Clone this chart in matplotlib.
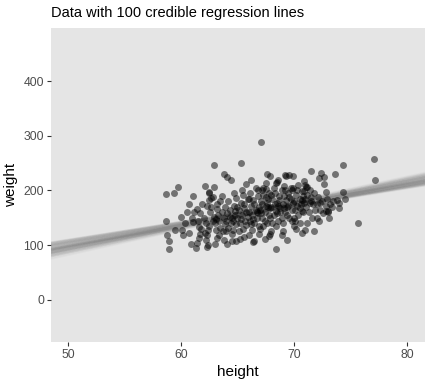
"""Scatter of weight vs height with 100 credible regression lines (ggplot look)."""

import matplotlib

matplotlib.use("Agg")
import matplotlib.pyplot as plt

height = [
    67.1, 62.9, 65.3, 63.8, 64.1, 64.4, 58.7, 59.4, 59.7, 61.1, 62.1, 62.9, 60.7, 60.0,
    58.7, 58.8, 58.9, 58.9, 59.5, 60.1, 60.2, 60.9, 61.4, 61.3, 62.3, 60.7, 61.6, 61.1,
    61.4, 61.7, 62.3, 62.5, 62.7, 62.5, 63.2, 63.6, 64.7, 64.9, 65.8, 66.2, 66.8, 67.5,
    67.6, 67.9, 68.4, 68.6, 69.3, 68.4, 69.4, 67.8, 66.5, 65.6, 64.9, 64.1, 63.2, 62.2,
    77.1, 74.3, 77.2, 75.7, 73.6, 74.3, 71.5, 72.4, 72.7, 72.2, 70.9, 71.2, 72.7, 72.8,
    73.4, 73.0, 72.3, 71.8, 70.7, 68.9, 70.2, 67.9, 66.4, 69.6, 69.2, 69.9, 68.5, 67.5,
    69.1, 70.9, 69.8, 71.4, 72.8, 62.5, 62.8, 67.3, 69.7, 70.7, 71.1,
    62.0, 62.2, 62.4, 62.6, 62.8, 62.1, 62.5, 62.9, 62.3, 62.7,
    63.0, 63.1, 63.3, 63.4, 63.5, 63.6, 63.8, 63.9, 63.2, 63.7, 63.4, 63.9, 63.5, 63.1,
    64.0, 64.1, 64.2, 64.3, 64.4, 64.5, 64.6, 64.7, 64.8, 64.9, 64.2, 64.5, 64.8, 64.0,
    64.6, 64.3,
    65.0, 65.1, 65.2, 65.3, 65.4, 65.5, 65.6, 65.7, 65.8, 65.9, 65.1, 65.5, 65.3, 65.8,
    65.6, 65.0, 65.9, 65.4,
    66.0, 66.1, 66.2, 66.3, 66.4, 66.5, 66.6, 66.7, 66.8, 66.9, 66.1, 66.3, 66.5, 66.7,
    66.9, 66.0, 66.4, 66.8, 66.2, 66.6,
    67.0, 67.1, 67.2, 67.3, 67.4, 67.5, 67.6, 67.7, 67.8, 67.9, 67.0, 67.2, 67.4, 67.6,
    67.8, 67.1, 67.5, 67.3, 67.7, 67.9, 67.2,
    68.0, 68.1, 68.2, 68.3, 68.4, 68.5, 68.6, 68.7, 68.8, 68.9, 68.1, 68.3, 68.5, 68.7,
    68.9, 68.2, 68.4, 68.6, 68.0, 68.8,
    69.0, 69.1, 69.2, 69.3, 69.4, 69.5, 69.6, 69.7, 69.8, 69.9, 69.0, 69.2, 69.4, 69.6,
    69.8, 69.1, 69.5, 69.9,
    70.0, 70.1, 70.2, 70.3, 70.4, 70.5, 70.6, 70.7, 70.8, 70.9, 70.1, 70.3, 70.5, 70.7,
    70.0, 70.4, 70.8,
    71.0, 71.1, 71.2, 71.3, 71.4, 71.5, 71.6, 71.7, 71.8, 71.9, 71.2, 71.5, 71.0,
    72.0, 72.1, 72.3, 72.5, 72.6, 72.8, 72.2, 72.9,
    73.2, 73.5, 73.8, 74.0, 73.1,
    61.0, 61.5, 61.8, 61.2, 61.9, 61.7, 60.5, 60.4, 61.6, 62.4, 63.0, 63.8, 64.5, 65.2,
    66.0, 66.9, 67.4, 68.0, 69.0, 70.0, 70.5, 71.0, 72.0, 73.0, 74.5, 74.0,
]
weight = [
    289, 247, 250, 231, 225, 219, 193, 195, 206, 190, 208, 206, 175, 151,
    144, 119, 108, 93, 128, 128, 119, 103, 104, 94, 96, 123, 134, 142,
    167, 158, 171, 182, 187, 197, 167, 190, 195, 186, 211, 219, 201, 214,
    230, 226, 213, 219, 227, 93, 110, 117, 108, 115, 107, 103, 113, 110,
    258, 247, 220, 141, 231, 198, 235, 232, 225, 222, 217, 206, 211, 197,
    169, 163, 177, 125, 122, 118, 130, 120, 105, 228, 228, 226, 216, 203,
    209, 199, 200, 201, 162, 196, 188, 204, 205, 199, 207,
    150, 140, 128, 160, 145, 122, 135, 152, 118, 170,
    140, 128, 155, 145, 132, 160, 150, 138, 175, 125, 118, 170, 180, 148,
    145, 158, 132, 165, 140, 150, 128, 172, 155, 138, 180, 120, 162, 126,
    145, 152,
    150, 165, 140, 178, 155, 130, 168, 145, 160, 185, 125, 192, 148, 137,
    175, 170, 152, 200,
    160, 145, 172, 155, 182, 140, 165, 150, 190, 135, 195, 128, 175, 160,
    170, 185, 148, 158, 138, 205,
    165, 180, 150, 192, 160, 172, 140, 185, 155, 168, 130, 200, 145, 178,
    195, 158, 188, 135, 170, 150, 176,
    170, 185, 155, 195, 162, 178, 145, 190, 168, 200, 140, 175, 158, 182,
    150, 205, 135, 172, 192, 160,
    175, 190, 160, 182, 170, 195, 150, 185, 165, 178, 140, 200, 155, 188,
    145, 168, 172, 205,
    180, 165, 192, 172, 155, 185, 175, 162, 190, 178, 145, 200, 168, 182,
    150, 210, 160,
    185, 170, 192, 160, 178, 188, 150, 175, 195, 165, 140, 180, 210,
    175, 188, 165, 180, 158, 172, 145, 185,
    175, 180, 182, 178, 150,
    150, 145, 130, 160, 175, 120, 160, 140, 113, 100, 103, 110, 108, 112,
    118, 120, 112, 125, 125, 135, 140, 128, 150, 160, 185, 168,
]

# 100 posterior draws: slope (lbs per inch) and fitted weight at height 66.5
slope = [
    3.28, 4.05, 3.71, 4.40, 3.53, 3.84, 4.21, 3.39, 3.93, 3.62, 4.50, 3.18, 3.80, 4.13,
    3.46, 4.31, 3.67, 3.97, 3.35, 4.27, 3.76, 3.88, 3.57, 4.58, 3.24, 4.02, 3.68, 4.17,
    3.42, 3.92, 4.36, 3.59, 3.79, 3.30, 4.09, 3.74, 4.45, 3.50, 3.89, 3.65, 4.25, 3.36,
    4.00, 3.56, 3.83, 4.16, 3.22, 4.34, 3.72, 3.95, 3.40, 4.06, 3.63, 4.43, 3.48, 3.85,
    3.70, 4.23, 3.27, 4.01, 3.78, 3.58, 4.12, 3.44, 4.39, 3.66, 3.91, 3.33, 4.20, 3.75,
    4.53, 3.52, 3.96, 3.61, 4.30, 3.38, 3.87, 3.71, 4.07, 3.49, 4.46, 3.29, 3.99, 3.67,
    4.14, 3.54, 3.81, 4.35, 3.41, 4.04, 3.65, 4.26, 3.23, 3.93, 3.76, 4.18, 3.45, 4.37,
    3.59, 3.84,
]
center = [
    160.0, 163.3, 158.3, 161.7, 164.0, 159.3, 161.0, 165.0, 160.7, 157.0, 162.6, 161.9,
    158.8, 163.6, 160.4, 157.9, 162.2, 163.0, 158.4, 165.7, 159.7, 161.4, 164.6, 157.4,
    162.3, 160.6, 159.1, 164.3, 161.1, 156.5, 163.2, 160.1, 161.8, 159.4, 165.3, 157.6,
    162.0, 163.7, 159.8, 158.7, 162.7, 161.5, 158.1, 164.5, 160.9, 159.2, 163.5, 161.3,
    156.8, 164.1, 160.5, 162.4, 158.5, 165.9, 161.4, 157.1, 163.1, 160.2, 163.9, 159.6,
    161.0, 157.8, 162.8, 159.7, 164.9, 158.9, 161.8, 164.4, 158.0, 162.3, 160.7, 158.4,
    164.8, 161.7, 156.7, 163.3, 160.0, 162.2, 159.2, 165.4, 157.5, 161.1, 163.6, 160.4,
    158.8, 162.6, 161.9, 158.3, 164.0, 159.8, 159.4, 163.0, 161.5, 157.3, 164.3, 160.6,
    162.7, 159.1, 161.3, 160.9,
]
PIVOT = 66.5

x_ticks = [50, 60, 70, 80]
y_ticks = [0, 100, 200, 300, 400]

plt.rcParams["font.family"] = ["Liberation Sans", "DejaVu Sans"]

fig = plt.figure(figsize=(4.32, 3.84), dpi=100)
ax = fig.add_axes([51 / 432, 1 - 342 / 384, 374 / 432, 314 / 384])
ax.set_facecolor("#E5E5E5")
for sp in ax.spines.values():
    sp.set_visible(False)

xlim = (48.5, 81.6)
ax.set_xlim(*xlim)
ax.set_ylim(-77, 497)

for b, c in zip(slope, center):
    ys = [c + b * (x - PIVOT) for x in xlim]
    ax.plot(xlim, ys, color="#8C8C8C", alpha=0.07, linewidth=1.3,
            solid_capstyle="butt", zorder=2)

ax.scatter(height, weight, s=25, color="black", alpha=0.5, linewidths=0, zorder=3)

ax.set_xticks(x_ticks)
ax.set_yticks(y_ticks)
ax.tick_params(axis="both", length=3, width=0.8, color="#333333",
               labelsize=8.8, labelcolor="#4D4D4D", pad=2)
ax.set_xlabel("height", fontsize=11, labelpad=3)
ax.set_ylabel("weight", fontsize=11, labelpad=4)
ax.set_title("Data with 100 credible regression lines", fontsize=10.5, loc="left", pad=8)

fig.savefig("out.png", dpi=100)
